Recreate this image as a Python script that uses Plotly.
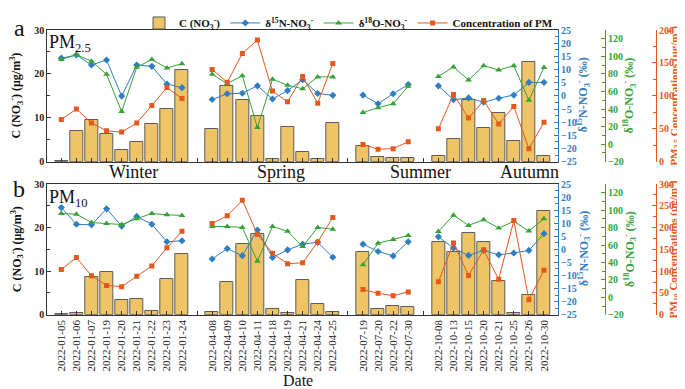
import plotly.graph_objects as go

SERIF = "Liberation Serif"

# ---------------- data ----------------
winter = ["2022-01-05", "2022-01-06", "2022-01-07", "2022-01-19", "2022-01-20",
          "2022-01-21", "2022-01-22", "2022-01-23", "2022-01-24"]
spring = ["2022-04-08", "2022-04-09", "2022-04-10", "2022-04-11", "2022-04-18",
          "2022-04-19", "2022-04-21", "2022-04-24", "2022-04-25"]
summer = ["2022-07-19", "2022-07-20", "2022-07-22", "2022-07-30"]
autumn = ["2022-10-08", "2022-10-13", "2022-10-15", "2022-10-20", "2022-10-21",
          "2022-10-25", "2022-10-26", "2022-10-30"]
season_names = ["Winter", "Spring", "Summer", "Autumn"]

# PM2.5 panel
no3_pm25 = [0.2, 7.0, 9.4, 6.3, 2.7, 4.5, 8.5, 12.1, 20.9,
            7.5, 17.2, 14.0, 10.4, 0.5, 7.8, 2.3, 0.5, 8.7,
            3.6, 1.1, 0.9, 0.9,
            1.3, 5.2, 14.1, 7.6, 11.2, 4.7, 22.7, 1.2]
d15n_pm25 = [14.3, 15.5, 11.7, 13.6, -0.1, 11.7, 11.2, 4.5, 3.1,
             -1.4, 0.8, 1.0, 3.8, -1.2, 2.0, 6.1, 0.9, 0.2,
             0.3, -3.0, 0.8, 4.3,
             3.8, -1.5, -0.8, -2.4, -0.9, 0.3, 5.1, 5.1]
d18o_pm25 = [96.4, 101.8, 94.5, 79.5, 37.1, 87.5, 96.4, 86.8, 91.6,
             79.5, 68.9, 78.0, 18.8, 74.0, 67.1, 63.1, 76.6, 76.6,
             36.0, 41.5, 45.9, 66.0,
             77.0, 88.0, 73.0, 89.4, 84.3, 89.4, 49.9, 87.2]
pm25 = [64.2, 80.0, 58.8, 46.9, 44.9, 58.8, 85.4, 112.6, 95.8,
        140.2, 120.5, 164.4, 184.7, 107.2, 90.9, 129.4, 88.9, 149.1,
        26.2, 18.8, 19.8, 30.1,
        49.9, 102.2, 66.2, 92.8, 57.3, 83.9, 19.8, 59.8]

# PM10 panel
no3_pm10 = [0.2, 0.4, 8.7, 9.9, 3.4, 3.6, 0.8, 8.2, 14.0,
            0.7, 7.6, 16.2, 18.6, 1.2, 0.3, 8.0, 2.5, 0.7,
            14.5, 1.2, 1.9, 1.8,
            16.6, 14.4, 18.8, 16.8, 7.7, 0.4, 4.6, 23.9]
d15n_pm10 = [16.0, 9.6, 9.4, 15.5, 8.9, 12.6, 9.6, 2.9, 3.3,
             -3.7, 0.3, -2.4, 7.4, -3.1, -0.2, 2.0, 2.7, -3.0,
             2.0, -0.8, -2.5, 2.9,
             4.8, 0.5, -2.3, -0.4, -2.1, -1.4, -0.4, 6.0]
d18o_pm10 = [96.2, 95.4, 85.8, 84.6, 83.5, 90.2, 96.2, 94.7, 94.0,
             81.3, 81.3, 80.2, 41.5, 81.3, 75.7, 58.3, 80.2, 78.0,
             37.4, 62.0, 66.4, 70.9,
             75.4, 94.3, 82.4, 89.1, 79.4, 87.2, 76.1, 90.2]
pm10 = [103.7, 131.2, 89.6, 67.3, 64.3, 88.1, 111.9, 153.5, 191.5,
        209.3, 227.1, 262.8, 184.8, 140.9, 117.1, 119.3, 166.9, 223.4,
        57.6, 49.4, 43.5, 52.4,
        75.5, 164.7, 90.3, 148.3, 81.4, 216.0, 34.6, 102.2]

# ---------------- categories with season gaps ----------------
groups = [winter, spring, summer, autumn]
cats = []
is_gap = []
for gi, g in enumerate(groups):
    cats += g
    is_gap += [False] * len(g)
    if gi < len(groups) - 1:
        cats.append(" " * (gi + 1))
        is_gap.append(True)


def expand(vals):
    it = iter(vals)
    return [None if gap else next(it) for gap in is_gap]


BAR = "#eec466"
BAR_LINE = "#5c5c5c"
BLUE = "#2f7ec1"
GREEN = "#36a336"
ORANGE = "#e2581d"
AX = "#333333"

W, H = 685, 389
xd = [39.3 / W, 550 / W]
ya = [1 - 153 / H, 1 - 17.5 / H]
yb = [1 - 310.5 / H, 1 - 176 / H]

fig = go.Figure()

panels = [
    dict(x="x", ys=("y", "y2", "y3", "y4"), no3=no3_pm25, n=d15n_pm25, o=d18o_pm25, pm=pm25, legend=True),
    dict(x="x2", ys=("y5", "y6", "y7", "y8"), no3=no3_pm10, n=d15n_pm10, o=d18o_pm10, pm=pm10, legend=False),
]

for p in panels:
    fig.add_trace(go.Bar(
        x=cats, y=expand(p["no3"]), xaxis=p["x"], yaxis=p["ys"][0],
        name="C (NO<sub>3</sub><sup>-</sup>)", width=0.86,
        marker=dict(color=BAR, line=dict(color=BAR_LINE, width=1)),
        showlegend=p["legend"], legendrank=1))
    fig.add_trace(go.Scatter(
        x=cats, y=expand(p["n"]), xaxis=p["x"], yaxis=p["ys"][1],
        mode="lines+markers", name="δ<sup>15</sup>N-NO<sub>3</sub><sup>-</sup>",
        line=dict(color=BLUE, width=1), marker=dict(symbol="diamond", size=5.5, color=BLUE),
        connectgaps=False, showlegend=p["legend"], legendrank=2))
    fig.add_trace(go.Scatter(
        x=cats, y=expand(p["o"]), xaxis=p["x"], yaxis=p["ys"][2],
        mode="lines+markers", name="δ<sup>18</sup>O-NO<sub>3</sub><sup>-</sup>",
        line=dict(color=GREEN, width=1), marker=dict(symbol="triangle-up", size=6, color=GREEN),
        connectgaps=False, showlegend=p["legend"], legendrank=3))
    fig.add_trace(go.Scatter(
        x=cats, y=expand(p["pm"]), xaxis=p["x"], yaxis=p["ys"][3],
        mode="lines+markers", name="Concentration of PM",
        line=dict(color=ORANGE, width=1), marker=dict(symbol="square", size=5, color=ORANGE),
        connectgaps=False, showlegend=p["legend"], legendrank=4))

tickbold = lambda c: dict(family=SERIF, size=10, color=c, weight="bold")


def xaxis(anchor, labels):
    return dict(domain=xd, anchor=anchor, type="category", categoryorder="array",
                categoryarray=cats, range=[-0.93, len(cats) - 1 + 0.93],
                showticklabels=labels, ticks="inside", ticklen=4, tickcolor=AX,
                tickangle=-90, tickfont=dict(family=SERIF, size=11, color="#222"),
                showline=True, linecolor=AX, linewidth=1, mirror=True,
                showgrid=False, zeroline=False)


def left_axis(dom, xa):
    return dict(domain=dom, anchor=xa, range=[0, 30], dtick=10, ticks="inside",
                ticklen=4, tickcolor=AX, tickfont=tickbold("#222"),
                minor=dict(dtick=5, ticks="inside", ticklen=3, tickcolor=AX),
                showline=True, linecolor=AX, linewidth=1, showgrid=False, zeroline=False)


def right_axis(over, xa, rng, dt, mdt, color, pos=None):
    d = dict(overlaying=over, side="right", range=rng, dtick=dt, tick0=0,
             ticks="inside", ticklen=4, tickcolor=color, tickfont=tickbold(color),
             minor=dict(dtick=mdt, ticks="inside", ticklen=2.5, tickcolor=color),
             showline=True, linecolor=color, linewidth=1.2, showgrid=False, zeroline=False)
    if pos is None:
        d["anchor"] = xa
    else:
        d["anchor"] = "free"
        d["position"] = pos
    return d


fig.update_layout(
    width=W, height=H, margin=dict(l=0, r=0, t=0, b=0),
    paper_bgcolor="white", plot_bgcolor="white",
    font=dict(family=SERIF, color="#222"),
    bargap=0,
    xaxis=xaxis("y", False),
    xaxis2=xaxis("y5", True),
    yaxis=left_axis(ya, "x"),
    yaxis2=right_axis("y", "x", [-25, 25], 5, 2.5, BLUE),
    yaxis3=right_axis("y", "x", [-20, 130], 20, 10, GREEN, 597 / W),
    yaxis4=right_axis("y", "x", [0, 200], 50, 25, ORANGE, 648 / W),
    yaxis5=left_axis(yb, "x2"),
    yaxis6=right_axis("y5", "x2", [-25, 25], 5, 2.5, BLUE),
    yaxis7=right_axis("y5", "x2", [-20, 130], 20, 10, GREEN, 597 / W),
    yaxis8=right_axis("y5", "x2", [0, 300], 50, 25, ORANGE, 648 / W),
    legend=dict(orientation="h", x=550 / W, xanchor="right", y=1.012, yanchor="top",
                font=dict(family=SERIF, size=11, color="#111", weight="bold"),
                bgcolor="rgba(0,0,0,0)", itemwidth=30),
)


def ann(text, px, py, size, color="#111", bold=False, angle=0, xanchor="center"):
    fig.add_annotation(text=text, x=px / W, y=1 - py / H, xref="paper", yref="paper",
                       showarrow=False, textangle=angle, xanchor=xanchor, yanchor="middle",
                       font=dict(family=SERIF, size=size, color=color,
                                 weight="bold" if bold else "normal"))


# panel letters and PM labels
ann("a", 11, 15, 24)
ann("b", 11, 181, 24)
ann("PM<sub>2.5</sub>", 39, 31, 18, xanchor="left")
ann("PM<sub>10</sub>", 39, 191, 18, xanchor="left")

# season labels
for name, px in zip(season_names, [125, 273, 412, 521]):
    ann(name, px, 164, 18)

# x title
ann("Date", 290, 378, 16)

# axis titles
no3_title = "C (NO<sub>3</sub><sup>-</sup>) (μg/m<sup>3</sup>)"
for cy, pmname in [(85, "PM<sub>2.5</sub>"), (243, "PM<sub>10</sub>")]:
    ann(no3_title, 9, cy, 12, bold=True, angle=-90)
    ann("δ<sup>15</sup>N-NO<sub>3</sub><sup>-</sup> (‰)", 576, cy, 12, BLUE, True, -90)
    ann("δ<sup>18</sup>O-NO<sub>3</sub><sup>-</sup> (‰)", 622, cy, 12, GREEN, True, -90)
    ann(pmname + " Concentrations (μg/m<sup>3</sup>)", 666, cy, 11, ORANGE, True, -90)

fig.write_html("out.html")
